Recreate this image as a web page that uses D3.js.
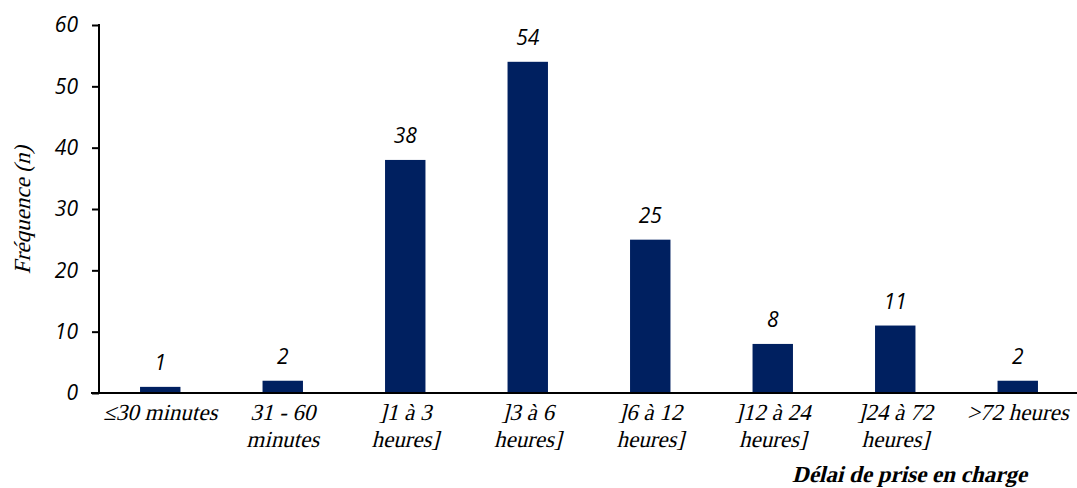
<!DOCTYPE html>
<html>
<head>
<meta charset="utf-8">
<script src="https://cdn.jsdelivr.net/npm/d3@7"></script>
<style>
  body { margin: 0; background: #fff; }
  svg text.serif { font-family: "Liberation Serif", "Times New Roman", serif; font-style: normal; font-size: 23px; }
  svg text.sans { font-family: "Open Sans", "DejaVu Sans", sans-serif; font-style: italic; font-size: 21px; }
</style>
</head>
<body>
<div id="chart"></div>
<script>
"use strict";

// data
var categories = [
  ["\u226430 minutes"],
  ["31 - 60", "minutes"],
  ["]1 \u00e0 3", "heures]"],
  ["]3 \u00e0 6", "heures]"],
  ["]6 \u00e0 12", "heures]"],
  ["]12 \u00e0 24", "heures]"],
  ["]24 \u00e0 72", "heures]"],
  [">72 heures"]
];
var values = [1, 2, 38, 54, 25, 8, 11, 2];
var yTicks = [0, 10, 20, 30, 40, 50, 60];

var width = 1077, height = 488;
var margin = { top: 25, right: 0, bottom: 95, left: 99 };
var slant = " skewX(-14)"; // serif italic face is not available, so lean the upright one

var svg = d3.select("#chart")
            .append("svg")
            .attr("width", width)
            .attr("height", height);

var keys = categories.map(function (d, i) { return i; });

var x = d3.scaleBand()
          .domain(keys)
          .range([margin.left, 1079])
          .paddingInner(0.67)
          .paddingOuter(0.335);

var y = d3.scaleLinear()
          .domain([0, 60])
          .range([height - margin.bottom, margin.top]);

// bars
svg.selectAll(".bar")
   .data(values)
   .enter()
   .append("rect")
   .attr("class", "bar")
   .attr("x", function (d, i) { return x(i); })
   .attr("width", x.bandwidth())
   .attr("y", function (d) { return y(d); })
   .attr("height", function (d) { return y(0) - y(d); })
   .attr("fill", "#002060");

// value labels
svg.selectAll(".val")
   .data(values)
   .enter()
   .append("text")
   .attr("class", "val sans")
   .attr("x", function (d, i) { return x(i) + x.bandwidth() / 2; })
   .attr("y", function (d) { return y(d) - 17; })
   .attr("text-anchor", "middle")
   .attr("fill", "#000")
   .text(function (d) { return d; });

// y axis
var yAxis = d3.axisLeft(y).tickValues(yTicks).tickSize(7).tickPadding(14);
var gy = svg.append("g")
            .attr("transform", "translate(" + margin.left + ",0)")
            .call(yAxis);
gy.attr("font-family", null).attr("font-size", null);
gy.select(".domain").attr("stroke", "#000").attr("stroke-width", 2)
  .attr("d", "M0," + (y(60) - 1) + "V" + y(0));
gy.selectAll(".tick line").attr("stroke", "#000").attr("stroke-width", 2);
gy.selectAll(".tick text").attr("class", "sans").attr("fill", "#000");

// x axis line
svg.append("line")
   .attr("x1", margin.left - 8)
   .attr("x2", width)
   .attr("y1", y(0))
   .attr("y2", y(0))
   .attr("stroke", "#000")
   .attr("stroke-width", 2);

// category labels, one text per line so each line leans on its own baseline
var cat = svg.selectAll(".cat")
   .data(categories)
   .enter()
   .append("g")
   .attr("class", "cat")
   .attr("transform", function (d, i) {
     return "translate(" + (x(i) + x.bandwidth() / 2) + "," + (y(0) + 27) + ")";
   });

cat.selectAll("text")
   .data(function (d) { return d; })
   .enter()
   .append("text")
   .attr("class", "serif")
   .attr("text-anchor", "middle")
   .attr("fill", "#000")
   .attr("transform", function (d, i) { return "translate(0," + (i * 27) + ")" + slant; })
   .text(function (d) { return d; });

// y title
svg.append("text")
   .attr("class", "serif")
   .attr("transform", "translate(30," + (y(30) + 1) + ") rotate(-90)" + slant)
   .attr("text-anchor", "middle")
   .text("Fr\u00e9quence (n)");

// x title
svg.append("text")
   .attr("class", "serif")
   .attr("transform", "translate(1027,482)" + slant)
   .attr("text-anchor", "end")
   .style("font-weight", "bold")
   .text("D\u00e9lai de prise en charge");
</script>
</body>
</html>
